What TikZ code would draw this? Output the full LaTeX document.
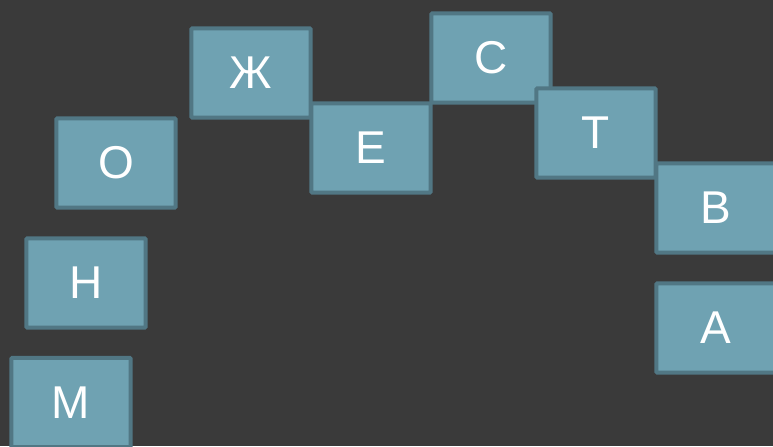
\documentclass[tikz,border=0pt]{standalone}
\usepackage{fontspec}
\setmainfont{Liberation Sans}
\usepackage{xcolor}
\usepackage{tikz}
\definecolor{fonSeryy}{HTML}{3A3A3A}
\definecolor{plitkaSiniy}{HTML}{6FA2B2}
\definecolor{kraySiniy}{HTML}{517784}

\tikzset{
  plitka/.style={rectangle,draw=kraySiniy,fill=plitkaSiniy,line width=3pt,
    rounded corners=0.8pt,minimum width=89.6pt,minimum height=67pt,
    inner sep=0pt,text=white,font=\fontsize{34.5}{38}\selectfont}
}

\begin{document}
\begin{tikzpicture}[x=0.75pt,y=-0.75pt]
% fon
\fill[fonSeryy] (0,0) rectangle (773,446);
\useasboundingbox (0,0) rectangle (773,446);
% levaya duga
\node[plitka] (m) at (71,402.5) {М};
\node[plitka] (n) at (86,283) {Н};
\node[plitka] (o) at (116,163) {О};
% verkh
\node[plitka] (zh) at (251,73) {Ж};
\node[plitka] (e) at (371,148) {Е};
\node[plitka] (s) at (491,58) {С};
\node[plitka] (t) at (596,133) {Т};
% pravaya storona
\node[plitka] (v) at (716,208) {В};
\node[plitka] (a) at (716,328) {А};
\end{tikzpicture}
\end{document}
